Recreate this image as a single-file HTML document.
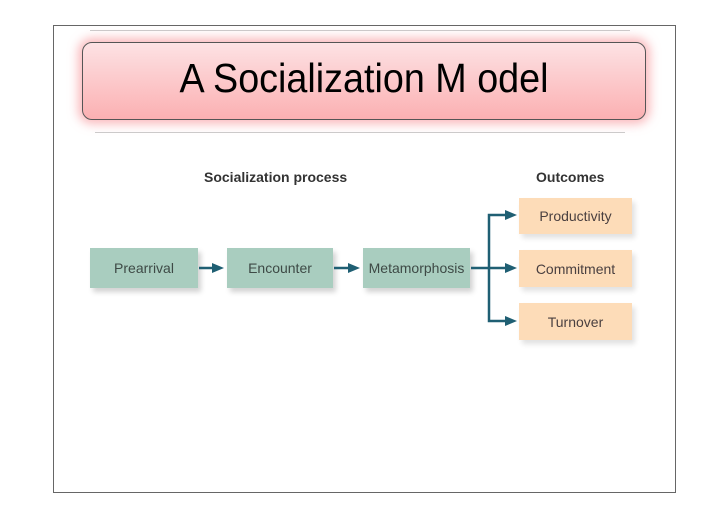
<!DOCTYPE html>
<html><head><style>
body{margin:0;width:728px;height:515px;background:#fff;position:relative;font-family:"Liberation Sans",sans-serif;overflow:hidden}
.a{position:absolute}
.g{position:absolute;background:#a9cdbf;color:#3e4a46;font-size:14px;display:flex;align-items:center;justify-content:center;box-shadow:3px 4px 5px rgba(0,0,0,0.18)}
.o{position:absolute;background:#fddcb8;color:#4a4040;font-size:14px;display:flex;align-items:center;justify-content:center;box-shadow:3px 4px 5px rgba(0,0,0,0.12)}
</style></head><body>
<div class="a" style="left:53px;top:25px;width:621px;height:466px;border:1px solid #666"></div>
<div class="a" style="left:90px;top:30px;width:540px;height:1px;background:#ccc"></div>
<div class="a" style="left:95px;top:132px;width:530px;height:1px;background:#ccc"></div>
<div class="a" style="left:82px;top:42px;width:562px;height:76px;border:1px solid #555;border-radius:10px;background:linear-gradient(#fde2e4,#fbb0b2);box-shadow:0 0 10px 4px rgba(245,130,135,0.55)"></div>
<div class="a" style="left:82px;top:55px;width:564px;text-align:center;font-size:41px;color:#000;transform:scaleX(0.92);">A Socialization M odel</div>
<div class="a" style="left:204px;top:169px;font-size:14px;font-weight:bold;color:#333">Socialization process</div>
<div class="a" style="left:536px;top:169px;font-size:14px;font-weight:bold;color:#333">Outcomes</div>
<div class="g" style="left:90px;top:248px;width:108px;height:40px">Prearrival</div>
<div class="g" style="left:227px;top:248px;width:106px;height:40px">Encounter</div>
<div class="g" style="left:363px;top:248px;width:107px;height:40px">Metamorphosis</div>
<div class="o" style="left:519px;top:198px;width:113px;height:36px">Productivity</div>
<div class="o" style="left:519px;top:250px;width:113px;height:37px">Commitment</div>
<div class="o" style="left:519px;top:303px;width:113px;height:37px">Turnover</div>
<svg class="a" style="left:0;top:0" width="728" height="515">
<g stroke="#1f5f73" stroke-width="2.5" fill="none">
<line x1="199" y1="268" x2="214" y2="268"/>
<line x1="334" y1="268" x2="350" y2="268"/>
<line x1="471" y1="268" x2="506" y2="268"/>
<polyline points="506,215 489,215 489,321 506,321"/>
</g>
<g fill="#1f5f73">
<polygon points="212,263 224,268 212,273"/>
<polygon points="348,263 360,268 348,273"/>
<polygon points="505,263 517,268 505,273"/>
<polygon points="505,210 517,215 505,220"/>
<polygon points="505,316 517,321 505,326"/>
</g>
</svg>
</body></html>
